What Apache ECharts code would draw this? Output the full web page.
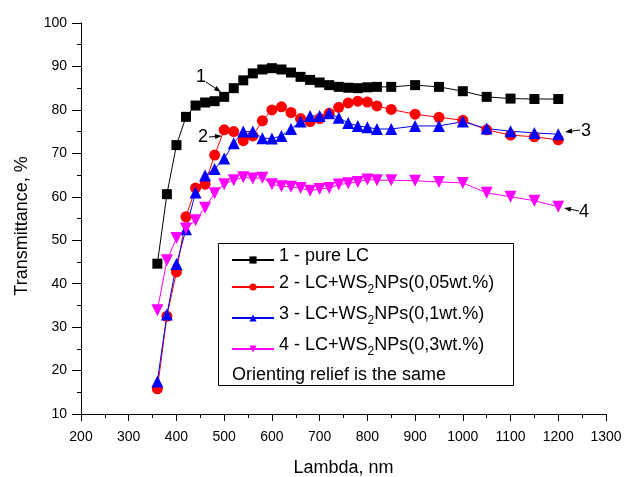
<!DOCTYPE html>
<html lang="en">
<head>
<meta charset="UTF-8">
<title>Transmittance</title>
<script src="https://cdn.jsdelivr.net/npm/echarts@6/dist/echarts.min.js"></script>
<style>
  html, body { margin: 0; padding: 0; background: #fff; }
  #chart { width: 626px; height: 477px; }
</style>
</head>
<body>
<div id="chart"></div>
<script>
// wavelength, nm
var lambda = [360, 380, 400, 420, 440, 460, 480, 500, 520, 540, 560, 580, 600, 620, 640, 660,
              680, 700, 720, 740, 760, 780, 800, 820, 850, 900, 950, 1000, 1050, 1100, 1150, 1200];
// transmittance, %
var pureLC = [44.6, 60.6, 71.9, 78.4, 81.0, 81.7, 82.0, 83.0, 85.0, 86.8, 88.4, 89.3, 89.6, 89.3, 88.6, 87.6,
              86.9, 86.3, 85.7, 85.3, 85.1, 85.0, 85.2, 85.3, 85.3, 85.7, 85.3, 84.3, 83.0, 82.6, 82.5, 82.5];
var ws005 = [15.8, 32.5, 42.7, 55.4, 62.0, 62.9, 69.6, 75.4, 75.0, 72.9, 74.0, 77.5, 80.0, 80.7, 79.4, 78.0,
             77.3, 78.0, 79.2, 80.6, 81.6, 82.0, 81.8, 80.9, 80.1, 79.0, 78.3, 77.6, 75.4, 74.2, 73.8, 73.1];
var ws01 = [17.5, 32.9, 44.5, 52.5, 61.0, 64.9, 66.4, 68.8, 72.3, 75.0, 75.0, 73.5, 73.4, 74.0, 75.6, 77.3,
            78.6, 78.6, 79.2, 78.2, 77.0, 76.3, 76.0, 75.6, 75.6, 76.3, 76.3, 77.3, 75.7, 75.1, 74.7, 74.4];
var ws03 = [33.9, 45.4, 50.5, 52.7, 54.6, 57.5, 60.8, 62.9, 63.8, 64.5, 64.2, 64.4, 62.9, 62.4, 62.3, 62.0,
            61.4, 61.8, 62.0, 62.8, 63.1, 63.4, 64.0, 63.8, 63.8, 63.7, 63.4, 63.2, 60.9, 60.0, 59.1, 57.7];

var names = ['1 - pure LC', '2 - LC+WS2NPs(0,05wt.%)', '3 - LC+WS2NPs(0,1wt.%)', '4 - LC+WS2NPs(0,3wt.%)'];

var xTicks = { min: 200, max: 1300, step: 100 };
var yTicks = { min: 10, max: 100, step: 10 };

var font = 'Liberation Sans, Arial, sans-serif';

function pairs(ys) {
    return lambda.map(function (x, i) { return [x, ys[i]]; });
}

function mkSeries(name, ys, color, symbol, size, rotate) {
    return {
        name: name,
        type: 'line',
        data: pairs(ys),
        symbol: symbol,
        symbolSize: size,
        symbolRotate: rotate || 0,
        lineStyle: { color: color, width: 1 },
        itemStyle: { color: color },
        animation: false,
        z: 3
    };
}

// arrow from (x1,y1) to tip (x2,y2)
function arrow(x1, y1, x2, y2) {
    var a = Math.atan2(y2 - y1, x2 - x1), L = 7, W = 2.5;
    var bx = x2 - L * Math.cos(a), by = y2 - L * Math.sin(a);
    var px = -Math.sin(a) * W, py = Math.cos(a) * W;
    return [
        { type: 'line', shape: { x1: x1, y1: y1, x2: bx, y2: by }, style: { stroke: '#000', lineWidth: 1 } },
        { type: 'polygon', shape: { points: [[x2, y2], [bx + px, by + py], [bx - px, by - py]] }, style: { fill: '#000' } }
    ];
}

var label = function (txt, x, y) {
    return { type: 'text', x: x, y: y, style: { text: txt, font: '18px ' + font, fill: '#000', textAlign: 'center', textVerticalAlign: 'middle' } };
};

var sub = {
    n: { fontSize: 18, fontFamily: font, color: '#000', lineHeight: 26, verticalAlign: 'top' },
    s: { fontSize: 12, fontFamily: font, color: '#000', lineHeight: 26, verticalAlign: 'top', padding: [10, 0, 0, 0] }
};

var graphics = [
    { type: 'rect', shape: { x: 218.5, y: 243.5, width: 295, height: 142 }, style: { fill: '#fff', stroke: '#000', lineWidth: 1 }, z: 10 },
    { type: 'text', x: 232, y: 375, z: 11, style: { text: 'Orienting relief is the same', font: '18px ' + font, fill: '#000', textVerticalAlign: 'middle' } },
    label('1', 201, 77), label('2', 203, 137), label('3', 586, 131), label('4', 584, 212)
].concat(arrow(206, 82, 221, 92), arrow(209, 137, 222, 136), arrow(580, 130, 565, 132), arrow(579, 211, 564, 208));

var option = {
    backgroundColor: '#fff',
    animation: false,
    grid: { left: 81, right: 20, top: 23, bottom: 63, containLabel: false, outerBoundsMode: 'none' },
    xAxis: {
        type: 'value',
        min: xTicks.min, max: xTicks.max, interval: xTicks.step,
        name: 'Lambda, nm',
        nameLocation: 'middle',
        nameGap: 45,
        nameTextStyle: { fontSize: 18, fontFamily: font, color: '#000' },
        axisLine: { onZero: false, lineStyle: { color: '#000', width: 1 } },
        axisTick: { length: 7, lineStyle: { color: '#000' } },
        minorTick: { show: true, splitNumber: 2, length: 4, lineStyle: { color: '#000' } },
        axisLabel: { fontSize: 14, fontFamily: font, color: '#000', margin: 16, formatter: function (v) { return String(v); } },
        splitLine: { show: false }
    },
    yAxis: {
        type: 'value',
        min: yTicks.min, max: yTicks.max, interval: yTicks.step,
        name: 'Transmittance, %',
        nameLocation: 'middle',
        nameGap: 50,
        nameTextStyle: { fontSize: 18, fontFamily: font, color: '#000', padding: [0, 15, 0, 0] },
        axisLine: { show: true, onZero: false, lineStyle: { color: '#000', width: 1 } },
        axisTick: { show: true, length: 9, lineStyle: { color: '#000' } },
        minorTick: { show: true, splitNumber: 2, length: 4, lineStyle: { color: '#000' } },
        axisLabel: { fontSize: 14, fontFamily: font, color: '#000', margin: 14 },
        splitLine: { show: false }
    },
    legend: {
        orient: 'vertical',
        left: 231,
        top: 247,
        z: 12,
        padding: 0,
        itemWidth: 42,
        itemHeight: 9,
        itemGap: 9,
        textStyle: { fontSize: 18, fontFamily: font, color: '#000', rich: sub },
        formatter: function (name) {
            if (name.indexOf('WS2') < 0) return '{n|' + name + '}';
            var p = name.split('WS2');
            return '{n|' + p[0] + 'WS}{s|2}{n|' + p[1] + '}';
        },
        data: names
    },
    series: [
        mkSeries(names[0], pureLC, '#000000', 'rect', 10),
        mkSeries(names[1], ws005, '#ff0000', 'circle', 11),
        mkSeries(names[2], ws01, '#0000ff', 'triangle', 12),
        mkSeries(names[3], ws03, '#ff00ff', 'triangle', 12, 180)
    ],
    graphic: graphics
};

var myChart = echarts.init(document.getElementById('chart'));
myChart.setOption(option);
</script>
</body>
</html>
